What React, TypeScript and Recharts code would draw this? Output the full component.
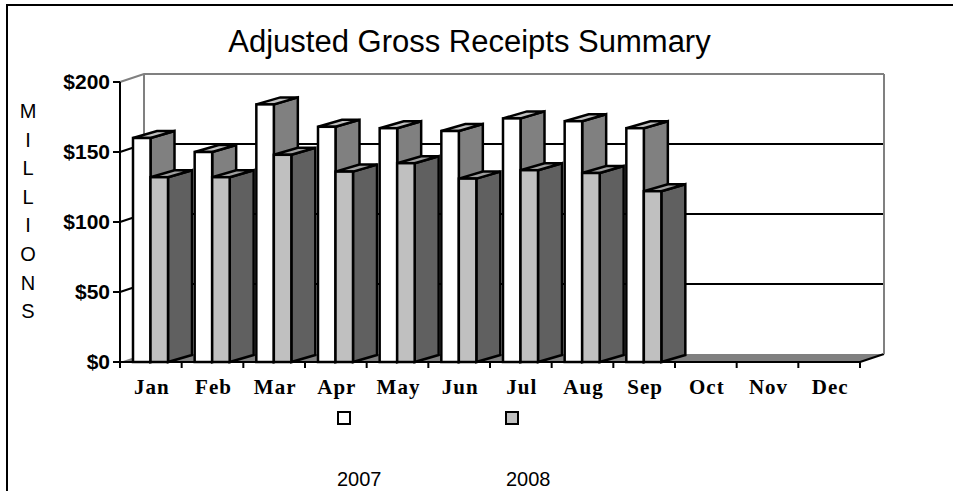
import { BarChart, Bar, XAxis, YAxis, CartesianGrid, Legend } from "recharts"

const months = ["Jan", "Feb", "Mar", "Apr", "May", "Jun", "Jul", "Aug", "Sep", "Oct", "Nov", "Dec"]
const values2007 = [160, 150, 184, 168, 167, 165, 174, 172, 167, null, null, null]
const values2008 = [132, 132, 148, 136, 142, 131, 137, 135, 122, null, null, null]
const yTicks = [0, 50, 100, 150, 200]
const sideLabel = "MILLIONS"

const rows = months.map((month, i) => ({
  month,
  y2007: values2007[i],
  y2008: values2008[i],
}))

// 3d look: back wall sits up and to the right of the front axes
const DX = 24
const DY = 8
const BAR_DY = 7
const SANS = "'Liberation Sans', Arial, sans-serif"
const SERIF = "'Liberation Serif', 'Times New Roman', serif"
const PLOT_W = 740

function Box(props: any, top: string, side: string) {
  const { x, y, width: w, height: h, fill } = props
  if (h == null || h <= 0) return <g />
  return (
    <g stroke="#000" strokeWidth={2.5} strokeLinejoin="miter">
      <path d={`M${x + w},${y} L${x + w + DX},${y - BAR_DY} L${x + w + DX},${y + h - BAR_DY} L${x + w},${y + h} Z`} fill={side} />
      <path d={`M${x},${y} L${x + DX},${y - BAR_DY} L${x + w + DX},${y - BAR_DY} L${x + w},${y} Z`} fill={top} />
      <rect x={x} y={y} width={w} height={h} fill={fill} />
    </g>
  )
}

function GridLine(props: any) {
  const { x1, x2, y1, index } = props
  const isTop = y1 < 90
  const isFloor = y1 > 350
  const back = y1 - DY
  return (
    <g key={index}>
      {isFloor && <path d={`M${x1},${y1} L${x1 + DX},${back} L${x2 + DX},${back} L${x2},${y1} Z`} fill="#808080" stroke="none" />}
      {isTop && <path d={`M${x1 + DX},${back} L${x1 + DX},${back + 280}`} stroke="#808080" strokeWidth={2} fill="none" />}
      {isTop && <path d={`M${x2 + DX},${back} L${x2 + DX},${back + 280}`} stroke="#808080" strokeWidth={2} fill="none" />}
      <path
        d={isFloor ? `M${x2},${y1} L${x2 + DX},${back}` : `M${x1},${y1} L${x1 + DX},${back} L${x2 + DX},${back}`}
        stroke={isTop ? "#808080" : "#000"}
        strokeWidth={2}
        fill="none"
      />
    </g>
  )
}

function MonthTick(props: any) {
  const { x, payload, index } = props
  const band = PLOT_W / months.length
  return (
    <g>
      <line x1={x - band / 2} x2={x - band / 2} y1={362} y2={368} stroke="#000" strokeWidth={2} />
      {index === months.length - 1 && (
        <line x1={x + band / 2} x2={x + band / 2} y1={362} y2={368} stroke="#000" strokeWidth={2} />
      )}
      <text x={x + 1} y={394} textAnchor="middle" fontFamily={SERIF} fontWeight="bold" fontSize={21} letterSpacing={1} fill="#000">
        {payload.value}
      </text>
    </g>
  )
}

function SideLabel() {
  return (
    <text fontFamily={SANS} fontSize={20} fill="#000" textAnchor="middle">
      {sideLabel.split("").map((c, i) => (
        <tspan key={i} x={28} y={118 + i * 28.6}>{c}</tspan>
      ))}
    </text>
  )
}

function LegendRow({ payload }: any) {
  const items = [...(payload || [])]
  return (
    <div style={{ position: "relative", width: 953, height: 90, fontFamily: SANS, fontSize: 20, color: "#000" }}>
      {items.map((item: any, i: number) => (
        <div key={item.value}>
          <div
            style={{
              position: "absolute",
              left: 337 + i * 168,
              top: 10,
              width: 10,
              height: 10,
              border: "2px solid #000",
              background: item.color,
            }}
          />
          <div style={{ position: "absolute", left: 337 + i * 169, top: 67, lineHeight: "23px" }}>{item.value}</div>
        </div>
      ))}
    </div>
  )
}

export default function App() {
  return (
    <div style={{ position: "absolute", left: 0, top: 0, width: 953, height: 491, overflow: "hidden", background: "#fff" }}>
      <div style={{ position: "absolute", left: 6, top: 4, width: 960, height: 500, borderTop: "2px solid #000", borderLeft: "2px solid #000" }} />
      <div
        style={{
          position: "absolute",
          left: 0,
          width: 939,
          top: 24,
          textAlign: "center",
          fontFamily: SANS,
          fontSize: 31,
          lineHeight: "36px",
          color: "#000",
        }}
      >
        Adjusted Gross Receipts Summary
      </div>
      <BarChart
        width={953}
        height={491}
        data={rows}
        margin={{ top: 82, right: 93, bottom: 9, left: 0 }}
        barSize={17.5}
        barGap={0}
        style={{ position: "absolute", left: 0, top: 0 }}
      >
        <CartesianGrid vertical={false} horizontal={(p: any) => <GridLine {...p} />} />
        <XAxis
          dataKey="month"
          interval={0}
          height={30}
          tickLine={false}
          axisLine={{ stroke: "#000", strokeWidth: 2 }}
          tick={(p: any) => <MonthTick {...p} />}
        />
        <YAxis
          width={120}
          domain={[0, 200]}
          ticks={yTicks}
          tickFormatter={(v: number) => `$${v}`}
          tickSize={7}
          tickMargin={3}
          tickLine={{ stroke: "#000", strokeWidth: 2 }}
          axisLine={{ stroke: "#000", strokeWidth: 2 }}
          tick={{ fontFamily: SANS, fontWeight: "bold", fontSize: 21, fill: "#000" }}
        />
        <Legend verticalAlign="bottom" content={<LegendRow />} wrapperStyle={{ left: 0, width: 953, bottom: 0 }} />
        <Bar dataKey="y2007" name="2007" fill="#ffffff" isAnimationActive={false} shape={(p: any) => Box(p, "#c0c0c0", "#808080")} />
        <Bar dataKey="y2008" name="2008" fill="#c0c0c0" isAnimationActive={false} shape={(p: any) => Box(p, "#a0a0a0", "#606060")} />
        <SideLabel />
      </BarChart>
    </div>
  )
}
